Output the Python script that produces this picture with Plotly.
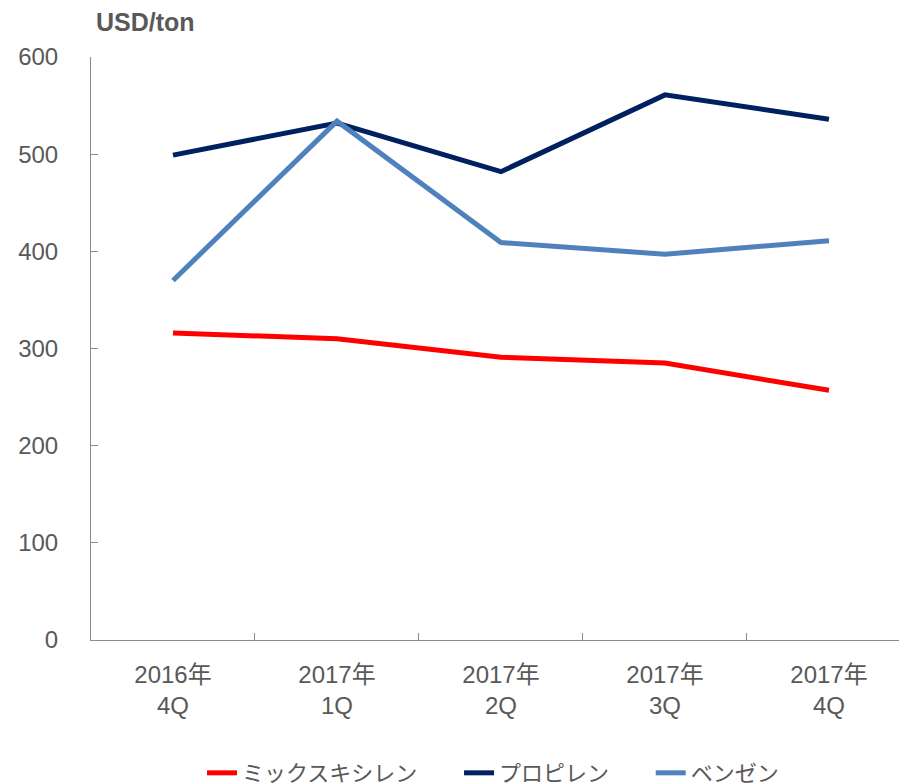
import plotly.graph_objects as go

categories = ["2016年<br>4Q", "2017年<br>1Q", "2017年<br>2Q", "2017年<br>3Q", "2017年<br>4Q"]
xylene = [316, 310, 291, 285, 257]
propylene = [499, 532, 482, 561, 536]
benzene = [370, 534, 409, 397, 411]
y_ticks = [0, 100, 200, 300, 400, 500, 600]

FONT = "Liberation Sans, Arial, Noto Sans CJK JP, sans-serif"
GRAY = "#595959"
AX = "#8c8c8c"
PAD = "\u00a0" * 6

fig = go.Figure()
for name, vals, col in [("ミックスキシレン", xylene, "#FF0000"),
                        ("プロピレン", propylene, "#002060"),
                        ("ベンゼン", benzene, "#4F81BD")]:
    fig.add_trace(go.Scatter(x=categories, y=vals, name=name + PAD, mode="lines",
                             line=dict(color=col, width=5)))

fig.update_layout(
    width=899, height=784,
    margin=dict(l=91, r=0, t=57, b=144, autoexpand=False),
    plot_bgcolor="white", paper_bgcolor="white",
    font=dict(family=FONT, size=24, color=GRAY),
    showlegend=True,
    legend=dict(orientation="h", xref="container", yref="container",
                x=0.569, xanchor="center", y=0.014, yanchor="middle",
                font=dict(size=22, color=GRAY), tracegroupgap=0),
    annotations=[dict(text="<b>USD/ton</b>", xref="paper", yref="paper",
                      x=0.004, y=1.0, yshift=35, xanchor="left", yanchor="middle",
                      showarrow=False, font=dict(size=25, color=GRAY))],
)
fig.update_xaxes(type="category", range=[-0.5, 4.427], showline=True, linecolor=AX,
                 linewidth=1, ticks="inside", tickson="boundaries", ticklen=7,
                 tickcolor=AX, showgrid=False, zeroline=False, automargin=False,
                 tickfont=dict(size=24, color=GRAY), ticklabelstandoff=13)
fig.update_yaxes(range=[0, 600], tickvals=y_ticks, showline=True, linecolor=AX,
                 linewidth=1, ticks="inside", ticklen=7, tickcolor=AX,
                 showgrid=False, zeroline=False, automargin=False,
                 tickfont=dict(size=24, color=GRAY), ticklabelstandoff=27)

fig.write_html("out.html", config={"displayModeBar": False},
               post_script="document.body.style.margin='0px';document.body.style.overflow='hidden';")
